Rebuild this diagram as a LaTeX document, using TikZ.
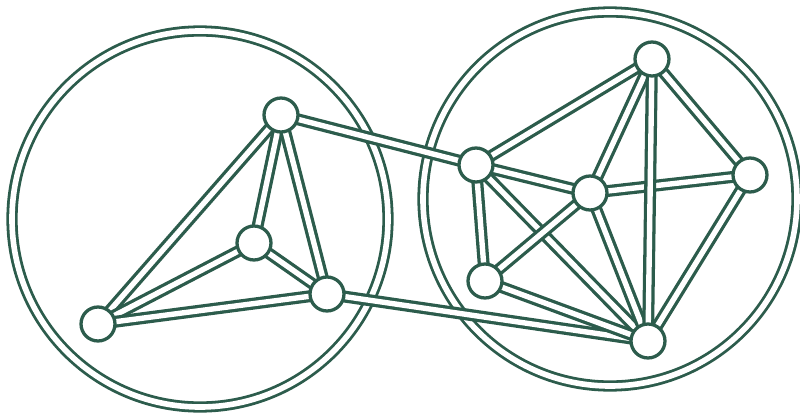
\documentclass[tikz,border=0pt]{standalone}
\usepackage{tikz}
\definecolor{pine}{RGB}{44,92,76}
\begin{document}
\begin{tikzpicture}[x=0.03cm,y=-0.03cm,
  vertex/.style={circle,draw=pine,fill=white,line width=2.8pt,inner sep=0pt,minimum size=29pt},
  link/.style={draw=pine,line width=2.8pt,double=white,double distance=4.6pt},
  ring/.style={draw=pine,line width=2.4pt,double=white,double distance=4.8pt}]
  \useasboundingbox (0,0) rectangle (800,418);
  % the two regions
  \draw[ring] (200,219) circle[radius=188];
  \draw[ring] (610,199) circle[radius=187];
  % left cluster
  \coordinate (a) at (281,115);
  \coordinate (b) at (254,243);
  \coordinate (c) at (327,294);
  \coordinate (d) at (98,324);
  % right cluster
  \coordinate (p) at (476,165);
  \coordinate (q) at (590,193);
  \coordinate (r) at (652,59);
  \coordinate (s) at (750,175);
  \coordinate (t) at (485,281);
  \coordinate (u) at (648,341);
  \draw[link] (a) -- (d);
  \draw[link] (a) -- (b);
  \draw[link] (a) -- (c);
  \draw[link] (b) -- (d);
  \draw[link] (b) -- (c);
  \draw[link] (c) -- (d);
  \draw[link] (a) -- (p);
  \draw[link] (c) -- (u);
  \draw[link] (p) -- (r);
  \draw[link] (p) -- (q);
  \draw[link] (p) -- (t);
  \draw[link] (p) -- (u);
  \draw[link] (t) -- (q);
  \draw[link] (t) -- (u);
  \draw[link] (q) -- (r);
  \draw[link] (q) -- (s);
  \draw[link] (q) -- (u);
  \draw[link] (r) -- (s);
  \draw[link] (r) -- (u);
  \draw[link] (s) -- (u);
  \foreach \v in {a,b,c,d,p,q,r,s,t,u}
    \node[vertex] (n\v) at (\v) {};
\end{tikzpicture}
\end{document}
